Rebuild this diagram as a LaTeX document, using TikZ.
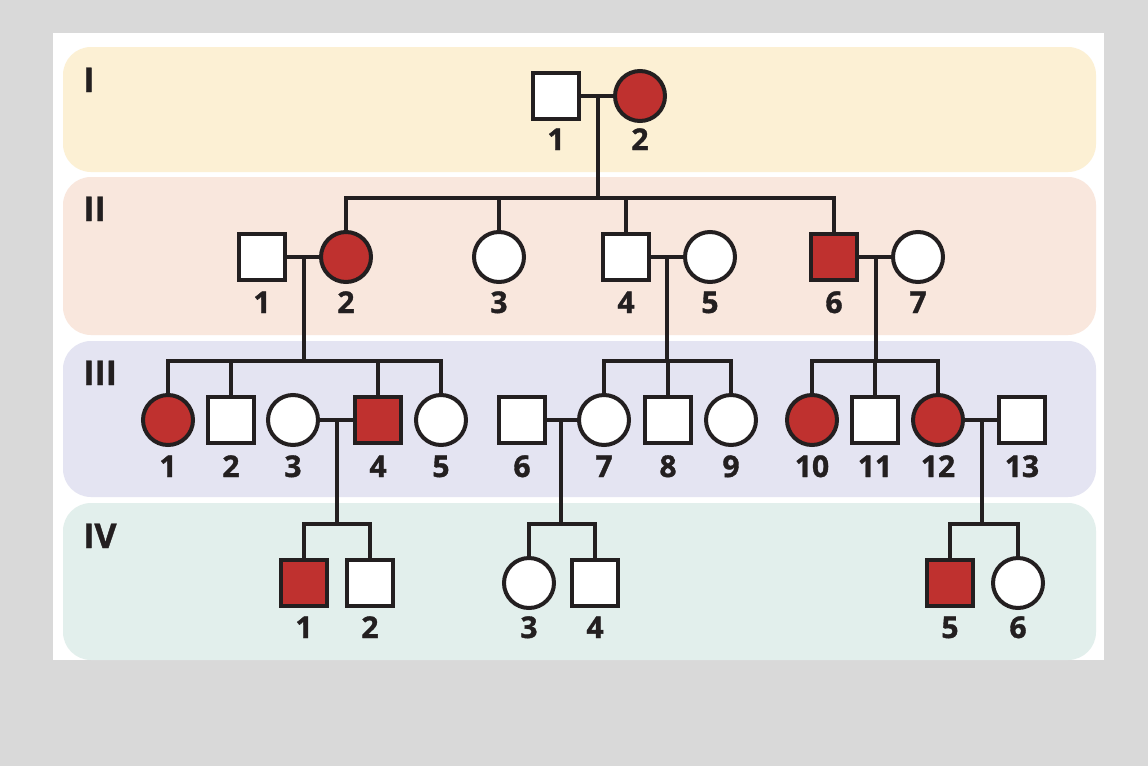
\documentclass[tikz,border=0pt]{standalone}
\usepackage{fontspec}
\newfontfamily\pedfont{Open Sans}[BoldFeatures={FakeBold=1.2}]
\definecolor{ink}{RGB}{35,31,32}
\definecolor{affected}{RGB}{191,49,47}
\definecolor{pagegray}{RGB}{217,217,217}
\definecolor{bandI}{RGB}{252,240,212}
\definecolor{bandII}{RGB}{249,231,221}
\definecolor{bandIII}{RGB}{228,228,242}
\definecolor{bandIV}{RGB}{226,239,236}

\begin{document}
\begin{tikzpicture}[
        x=1pt, y=-1pt,
        line join=miter,
        band/.style={rounded corners=28pt},
        link/.style={draw=ink, line width=4.2pt},
        male/.style={rectangle, draw=ink, line width=4pt, fill=white, minimum size=46pt, inner sep=0pt},
        female/.style={circle, draw=ink, line width=4pt, fill=white, minimum size=50pt, inner sep=0pt},
        amale/.style={male, fill=affected},
        afemale/.style={female, fill=affected},
        num/.style={font=\pedfont\bfseries\fontsize{30}{30}\selectfont, text=ink, anchor=base, inner sep=0pt},
        gen/.style={font=\pedfont\bfseries\fontsize{34}{34}\selectfont, text=ink, anchor=base west, inner sep=0pt},
    ]
    \useasboundingbox[fill=pagegray] (0,0) rectangle (1148,766);
    \fill[white] (53,33) rectangle (1104,660);

    % Generation bands.
    \fill[bandI, band] (63,47) rectangle (1096,172);
    \fill[bandII, band] (63,177) rectangle (1096,335);
    \fill[bandIII, band] (63,341) rectangle (1096,497);
    \fill[bandIV, band] (63,503) rectangle (1096,660);

    \node[gen] (gI) at (83,92) {I};
    \node[gen] (gII) at (83,221) {II};
    \node[gen] (gIII) at (83,385) {III};
    \node[gen] (gIV) at (83,548) {IV};

    % Individuals, generation by generation.
    \foreach \x/\n/\s in {556/1/male, 640/2/afemale}{
        \node[\s] (I\n) at (\x,96) {};
        \node[num] (I\n-no) at (\x,150) {\n};
    }
    \foreach \x/\n/\s in {262/1/male, 346/2/afemale, 499/3/female, 626/4/male,
            710/5/female, 834/6/amale, 918/7/female}{
        \node[\s] (II\n) at (\x,257) {};
        \node[num] (II\n-no) at (\x,313) {\n};
    }
    \foreach \x/\n/\s in {168/1/afemale, 231/2/male, 293/3/female, 378/4/amale,
            441/5/female, 522/6/male, 604/7/female, 668/8/male, 731/9/female,
            812/10/afemale, 875/11/male, 938/12/afemale, 1022/13/male}{
        \node[\s] (III\n) at (\x,420) {};
        \node[num] (III\n-no) at (\x,477) {\n};
    }
    \foreach \x/\n/\s in {304/1/amale, 370/2/male, 529/3/female, 595/4/male,
            950/5/amale, 1018/6/female}{
        \node[\s] (IV\n) at (\x,583) {};
        \node[num] (IV\n-no) at (\x,638) {\n};
    }

    % Matings and their descent lines.
    \coordinate (mI) at (598,96);
    \coordinate (sII) at (598,198);
    \draw[link] (I1) -- (I2);
    \draw[link] (mI) -- (sII);
    \draw[link] (II2.north) -- (II2.north |- sII) -- (II6.north |- sII) -- (II6.north);
    \draw[link] (II3.north) -- (II3.north |- sII);
    \draw[link] (II4.north) -- (II4.north |- sII);

    \coordinate (mII12) at (304,257);
    \coordinate (mII45) at (667,257);
    \coordinate (mII67) at (876,257);
    \coordinate (sIIIa) at (304,361);
    \coordinate (sIIIb) at (667,361);
    \coordinate (sIIIc) at (876,361);
    \draw[link] (II1) -- (II2);
    \draw[link] (II4) -- (II5);
    \draw[link] (II6) -- (II7);
    \draw[link] (mII12) -- (sIIIa);
    \draw[link] (mII45) -- (sIIIb);
    \draw[link] (mII67) -- (sIIIc);

    % Sibships of generation III.
    \draw[link] (III1.north) -- (III1.north |- sIIIa) -- (III5.north |- sIIIa) -- (III5.north);
    \draw[link] (III2.north) -- (III2.north |- sIIIa);
    \draw[link] (III4.north) -- (III4.north |- sIIIa);
    \draw[link] (III7.north) -- (III7.north |- sIIIb) -- (III9.north |- sIIIb) -- (III9.north);
    \draw[link] (III8.north) -- (III8.north |- sIIIb);
    \draw[link] (III10.north) -- (III10.north |- sIIIc) -- (III12.north |- sIIIc) -- (III12.north);
    \draw[link] (III11.north) -- (III11.north |- sIIIc);

    \coordinate (mIII34) at (337,420);
    \coordinate (mIII67) at (561,420);
    \coordinate (mIII1213) at (982,420);
    \coordinate (sIVa) at (337,524);
    \coordinate (sIVb) at (561,524);
    \coordinate (sIVc) at (982,524);
    \draw[link] (III3) -- (III4);
    \draw[link] (III6) -- (III7);
    \draw[link] (III12) -- (III13);
    \draw[link] (mIII34) -- (sIVa);
    \draw[link] (mIII67) -- (sIVb);
    \draw[link] (mIII1213) -- (sIVc);

    % Sibships of generation IV.
    \draw[link] (IV1.north) -- (IV1.north |- sIVa) -- (IV2.north |- sIVa) -- (IV2.north);
    \draw[link] (IV3.north) -- (IV3.north |- sIVb) -- (IV4.north |- sIVb) -- (IV4.north);
    \draw[link] (IV5.north) -- (IV5.north |- sIVc) -- (IV6.north |- sIVc) -- (IV6.north);
\end{tikzpicture}
\end{document}
